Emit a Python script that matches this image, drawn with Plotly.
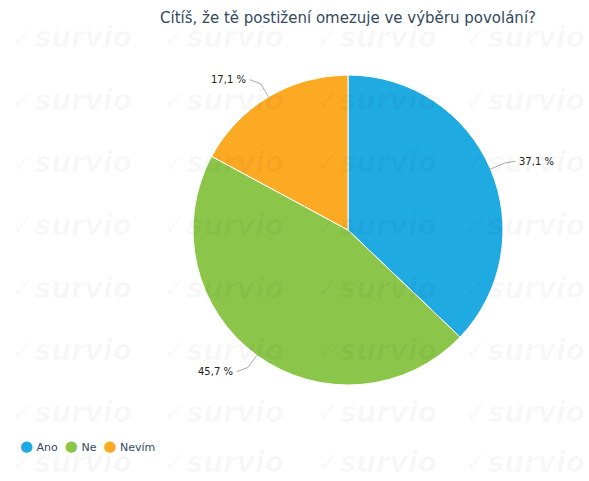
import math
import plotly.graph_objects as go

title = "Cítíš, že tě postižení omezuje ve výběru povolání?"
categories = ["Ano", "Ne", "Nevím"]
values = [37.1, 45.7, 17.1]
colors = ["#1faae1", "#8bc64a", "#fcaa24"]

W, H = 589, 481
L, R, T, B = 193, 86, 75, 96
PW, PH = W - L - R, H - T - B
cx, cy, rad = L + PW / 2, T + PH / 2, PW / 2


def px2paper(px, py):
    return (px - L) / PW, 1 - (py - T) / PH


fig = go.Figure()
fig.add_trace(go.Pie(
    labels=categories, values=values, sort=False, direction="clockwise",
    rotation=0, marker=dict(colors=colors, line=dict(color="white", width=1)),
    textinfo="none", hoverinfo="label+percent", showlegend=False,
    domain=dict(x=[0, 1], y=[0, 1]),
))

# watermark
wm_cols = [10, 162, 315]
wm_rows = [38, 100, 162, 225, 288, 350, 412, 462]
for wy in wm_rows:
    for wx in wm_cols + [586]:
        x, y = px2paper(wx, wy)
        fig.add_annotation(x=x, y=y, xref="paper", yref="paper", text="<b><i>✓survio</i></b>",
                           showarrow=False, font=dict(size=28, color="rgba(0,0,0,0.03)",
                                                      family="DejaVu Sans"),
                           xanchor="right" if wx == 586 else "left", yanchor="middle",
                           borderpad=0)

# outside labels with connectors
total = sum(values)
cum = 0
for c, v in zip(categories, values):
    mid = (cum + v / 2) / total * 2 * math.pi
    cum += v
    s, co = math.sin(mid), math.cos(mid)
    p0 = (cx + rad * s, cy - rad * co)
    p1 = (cx + (rad + 15) * s, cy - (rad + 15) * co)
    side = 1 if s >= 0 else -1
    p2 = (p1[0] + side * 11, cy - (rad + 20) * co)
    for a, b in [(p0, p1), (p1, p2)]:
        xa, ya = px2paper(*a)
        xb, yb = px2paper(*b)
        fig.add_shape(type="line", xref="paper", yref="paper", x0=xa, y0=ya, x1=xb, y1=yb,
                      line=dict(color="#aaaaaa", width=1))
    lx, ly = px2paper(p2[0] + side * 2, p2[1])
    fig.add_annotation(x=lx, y=ly, xref="paper", yref="paper",
                       text=f"{v:.1f} %".replace(".", ","), showarrow=False,
                       xanchor="left" if side > 0 else "right", yanchor="middle",
                       font=dict(size=10, color="#222222", family="DejaVu Sans"))

# legend (horizontal, circle markers)
legend_text = "&nbsp;&nbsp;".join(
    f"<span style='color:{col};font-size:15px'>●</span>&nbsp;{c}"
    for c, col in zip(categories, colors))
lgx, lgy = px2paper(18, 446)
fig.add_annotation(x=lgx, y=lgy, xref="paper", yref="paper", text=legend_text,
                   showarrow=False, xanchor="left", yanchor="middle",
                   font=dict(size=11, color="#34495e", family="DejaVu Sans"))

fig.update_layout(
    width=W, height=H,
    margin=dict(l=L, r=R, t=T, b=B, autoexpand=False),
    paper_bgcolor="white", plot_bgcolor="white", showlegend=False,
    title=dict(text=title, x=(cx) / W, xanchor="center", y=1 - 18 / H, yanchor="middle",
               font=dict(size=15, color="#34495e", family="DejaVu Sans")),
)
fig.write_html("out.html", config={"displayModeBar": False},
               post_script="document.body.style.margin='0';document.body.style.overflow='hidden';")
